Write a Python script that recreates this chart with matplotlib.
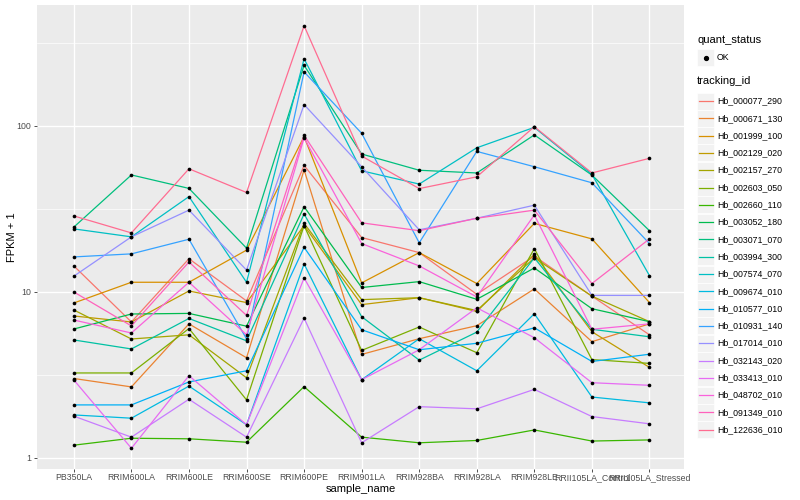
import matplotlib
matplotlib.use("Agg")
import matplotlib.pyplot as plt
from matplotlib.patches import Rectangle
import numpy as np

plt.rcParams['font.family'] = ['Liberation Sans', 'DejaVu Sans']

samples = ["PB350LA", "RRIM600LA", "RRIM600LE", "RRIM600SE", "RRIM600PE",
           "RRIM901LA", "RRIM928BA", "RRIM928LA", "RRIM928LE",
           "RRII105LA_Control", "RRII105LA_Stressed"]

tracking_ids = ["Hb_000077_290", "Hb_000671_130", "Hb_001999_100", "Hb_002129_020",
                "Hb_002157_270", "Hb_002603_050", "Hb_002660_110", "Hb_003052_180",
                "Hb_003071_070", "Hb_003994_300", "Hb_007574_070", "Hb_009674_010",
                "Hb_010577_010", "Hb_010931_140", "Hb_017014_010", "Hb_032143_020",
                "Hb_033413_010", "Hb_048702_010", "Hb_091349_010", "Hb_122636_010"]

# FPKM + 1 values per gene, one per sample
Hb_000077_290 = [14.3, 6.57, 15.8, 8.8, 57.6, 21.2, 17.2, 9.65, 16.4, 9.4, 5.5]
Hb_000671_130 = [3.0, 2.67, 6.4, 4.0, 54.2, 4.19, 5.21, 6.24, 10.4, 5.0, 6.4]
Hb_001999_100 = [8.55, 11.4, 11.4, 17.8, 86.0, 11.3, 17.2, 11.2, 25.8, 20.8, 8.6]
Hb_002129_020 = [7.14, 6.57, 10.1, 8.6, 25.0, 8.36, 9.2, 7.6, 16.8, 5.74, 3.5]
Hb_002157_270 = [7.76, 5.19, 5.5, 3.03, 25.8, 8.96, 9.2, 7.7, 16.0, 9.4, 6.6]
Hb_002603_050 = [3.24, 3.24, 6.0, 2.23, 25.0, 4.43, 6.13, 4.29, 18.2, 3.9, 3.7]
Hb_002660_110 = [1.19, 1.31, 1.30, 1.24, 2.68, 1.33, 1.23, 1.27, 1.47, 1.26, 1.28]
Hb_003052_180 = [5.96, 7.34, 7.4, 6.2, 32.5, 10.6, 11.5, 9.0, 13.9, 7.9, 6.6]
Hb_003071_070 = [24.5, 50.5, 41.9, 18.3, 231.0, 67.5, 53.9, 51.9, 88.0, 50.4, 23.3]
Hb_003994_300 = [5.12, 4.52, 6.9, 5.06, 29.4, 7.07, 3.87, 5.71, 16.0, 5.94, 5.35]
Hb_007574_070 = [23.9, 21.4, 37.4, 11.4, 253.0, 53.5, 44.5, 73.6, 97.7, 51.0, 12.5]
Hb_009674_010 = [1.81, 1.73, 2.7, 1.58, 14.7, 2.95, 5.21, 3.34, 7.37, 2.32, 2.14]
Hb_010577_010 = [2.08, 2.08, 2.86, 3.34, 18.5, 5.9, 4.47, 4.89, 6.06, 3.8, 4.2]
Hb_010931_140 = [16.2, 16.9, 20.7, 5.2, 211.0, 90.0, 19.7, 70.0, 56.6, 45.3, 19.5]
Hb_017014_010 = [12.4, 21.4, 31.0, 13.5, 134.0, 56.6, 23.6, 27.7, 33.2, 9.5, 9.5]
Hb_032143_020 = [1.78, 1.33, 2.25, 1.33, 6.93, 1.23, 2.03, 1.97, 2.58, 1.77, 1.60]
Hb_033413_010 = [2.94, 1.14, 3.12, 1.58, 12.1, 2.95, 4.47, 8.0, 5.28, 2.83, 2.73]
Hb_048702_010 = [6.75, 5.64, 11.4, 5.5, 84.5, 19.5, 14.3, 9.3, 29.0, 5.94, 6.4]
Hb_091349_010 = [9.96, 6.22, 15.1, 7.2, 87.5, 26.0, 23.3, 27.7, 31.0, 11.2, 20.8]
Hb_122636_010 = [28.6, 22.6, 55.0, 39.6, 400.0, 65.6, 41.8, 49.2, 98.6, 51.9, 63.6]

series = [Hb_000077_290, Hb_000671_130, Hb_001999_100, Hb_002129_020, Hb_002157_270,
          Hb_002603_050, Hb_002660_110, Hb_003052_180, Hb_003071_070, Hb_003994_300,
          Hb_007574_070, Hb_009674_010, Hb_010577_010, Hb_010931_140, Hb_017014_010,
          Hb_032143_020, Hb_033413_010, Hb_048702_010, Hb_091349_010, Hb_122636_010]

colors = ["#F8766D", "#EA8331", "#D89000", "#C09B00", "#A3A500", "#7CAE00", "#39B600",
          "#00BB4E", "#00BF7D", "#00C1A3", "#00BFC4", "#00BAE0", "#00B0F6", "#35A2FF",
          "#9590FF", "#C77CFF", "#E76BF3", "#FA62DB", "#FF62BC", "#FF6C91"]

W, H = 800, 500
fig = plt.figure(figsize=(8, 5), dpi=100)
pl, pr, pt, pb = 37, 684, 5, 469
ax = fig.add_axes([pl / W, 1 - pb / H, (pr - pl) / W, (pb - pt) / H])
ax.set_facecolor("#EBEBEB")

x = np.arange(len(samples))
for vals, col in zip(series, colors):
    ax.plot(x, vals, color=col, lw=0.9, zorder=3, solid_capstyle='butt')
for vals in series:
    ax.scatter(x, vals, s=7, color="black", zorder=4, linewidths=0)

ax.set_yscale("log")
ax.set_ylim(10 ** -0.068, 10 ** 2.727)
ax.set_xlim(-0.64, len(samples) - 1 + 0.6)

ax.set_yticks([1, 10, 100])
ax.set_yticklabels(["1", "10", "100"])
ax.set_yticks([10 ** 0.5, 10 ** 1.5, 10 ** 2.5], minor=True)
ax.yaxis.set_minor_formatter(matplotlib.ticker.NullFormatter())
ax.set_xticks(x)
ax.set_xticklabels(samples)

ax.grid(which="major", color="white", lw=1.0, zorder=0)
ax.grid(which="minor", axis="y", color="white", lw=0.5, zorder=0)
ax.set_axisbelow(True)
for s in ax.spines.values():
    s.set_visible(False)
ax.tick_params(which="major", length=2.2, width=0.6, color="#333333",
               labelcolor="#4D4D4D", labelsize=6.3, pad=2)
ax.tick_params(axis="x", which="major", pad=1)
ax.tick_params(which="minor", length=0)

ax.set_xlabel("sample_name", fontsize=8, color="black")
ax.set_ylabel("FPKM + 1", fontsize=8, color="black")
ax.xaxis.set_label_coords((361 - pl) / (pr - pl), (pb - 484) / (pb - pt))
ax.yaxis.set_label_coords((17 - pl) / (pr - pl), 0.5)

# Legend drawn in a pixel-space overlay
lax = fig.add_axes([0, 0, 1, 1], facecolor="none")
lax.set_xlim(0, W)
lax.set_ylim(H, 0)
lax.axis("off")

lx = 697
lax.text(lx, 43, "quant_status", fontsize=8, va="baseline", ha="left")
lax.add_patch(Rectangle((lx, 49), 17, 17, facecolor="#F2F2F2", edgecolor="white", lw=0.5))
lax.plot([lx + 8.5], [57.5], marker="o", ms=2.8, color="black")
lax.text(lx + 20, 57.5, "OK", fontsize=6.3, va="center", ha="left")

lax.text(lx, 84, "tracking_id", fontsize=8, va="baseline", ha="left")
y0, dy = 101, 17.3
for i, (name, col) in enumerate(zip(tracking_ids, colors)):
    yc = y0 + i * dy
    lax.add_patch(Rectangle((lx, yc - 8.5), 17, 17, facecolor="#F2F2F2",
                            edgecolor="white", lw=0.5))
    lax.plot([lx + 1.5, lx + 15.5], [yc, yc], color=col, lw=0.9)
    lax.text(lx + 20, yc, name, fontsize=6.3, va="center", ha="left")

fig.savefig("out.png", dpi=100)
